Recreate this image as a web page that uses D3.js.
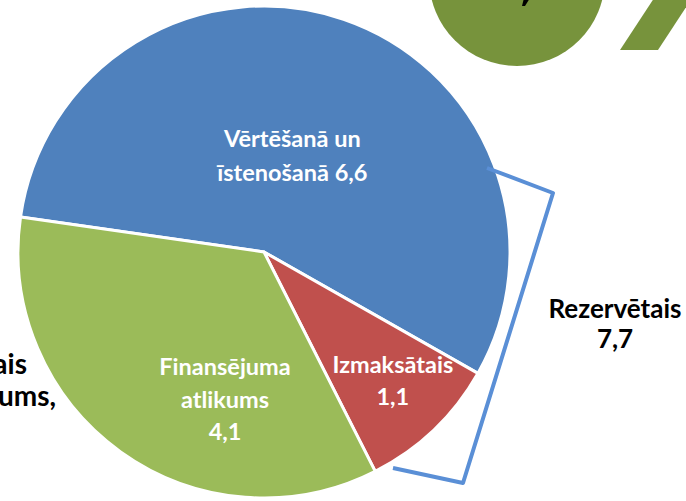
<!DOCTYPE html>
<html>
<head>
<meta charset="utf-8">
<title>Rezervētais</title>
<script src="https://cdn.jsdelivr.net/npm/d3@7/dist/d3.min.js"></script>
<style>
    body { margin: 0; background: white; }
    svg { display: block; }
    .lbl { font-family: Lato, "Open Sans", sans-serif; font-weight: 700; }
</style>
</head>
<body>
<div id="panel"></div>
<script>
// chart data
var categories = ["Vērtēšanā un īstenošanā", "Izmaksātais", "Finansējuma atlikums"];
var values = [6.6, 1.1, 4.1];
var labelLines = [["Vērtēšanā un", "īstenošanā 6,6"], ["Izmaksātais", "1,1"], ["Finansējuma", "atlikums", "4,1"]];
var colors = ["#4F81BD", "#C0504D", "#9BBB59"];
var bracketLines = ["Rezervētais", "7,7"];
var leftLines = ["ais", "ums,"];

var width = 686, height = 501;
var cx = 264, cy = 252, radius = 246;
var startDeg = -81.8;
// label placement: angle offset (deg) from slice middle, distance from centre, line height
var labelPlace = [[-2.4, 100, 34], [-1.4, 182, 32], [-20.9, 153, 32.5]];

var svg = d3.select("#panel").append("svg")
    .attr("width", width)
    .attr("height", height);

// decorations at the top right
svg.append("circle")
    .attr("cx", 517).attr("cy", -22).attr("r", 88)
    .attr("fill", "#77933C");
svg.append("path")
    .attr("d", "M524,-2 L530,-2 L525,6 L522,6 Z")
    .attr("fill", "black");
svg.append("path")
    .attr("d", "M620,50 L658,50 L700,-14 L662,-14 Z")
    .attr("fill", "#77933C");

var pie = d3.pie()
    .sort(null)
    .value(function(d) { return d; })
    .startAngle(startDeg * Math.PI / 180)
    .endAngle(startDeg * Math.PI / 180 + 2 * Math.PI);

var arc = d3.arc().innerRadius(0).outerRadius(radius);
var arcs = pie(values);

var g = svg.append("g").attr("transform", "translate(" + cx + "," + cy + ")");

g.selectAll("path.slice")
    .data(arcs)
    .enter().append("path")
    .attr("class", "slice")
    .attr("d", arc)
    .attr("fill", function(d, i) { return colors[i]; })
    .attr("stroke", "white")
    .attr("stroke-width", 3)
    .attr("stroke-linejoin", "round");

arcs.forEach(function(d, i) {
    var mid = (d.startAngle + d.endAngle) / 2 + labelPlace[i][0] * Math.PI / 180;
    var r = labelPlace[i][1], lineH = labelPlace[i][2];
    var x = r * Math.sin(mid), y = -r * Math.cos(mid);
    var lines = labelLines[i];
    var t = g.append("text")
        .attr("class", "lbl")
        .attr("text-anchor", "middle")
        .attr("font-size", 23.5)
        .attr("fill", "white");
    lines.forEach(function(s, k) {
        t.append("tspan")
            .attr("x", x)
            .attr("y", y + (k - (lines.length - 1) / 2) * lineH + 8)
            .text(s);
    });
});

// bracket round the "reserved" part
svg.append("path")
    .attr("d", "M487,168 L553,193 L463,483 L393,468")
    .attr("fill", "none")
    .attr("stroke", "#5A8FD6")
    .attr("stroke-width", 4)
    .attr("stroke-linejoin", "round");

var rt = svg.append("text")
    .attr("class", "lbl")
    .attr("text-anchor", "middle")
    .attr("font-size", 26)
    .attr("fill", "black");
bracketLines.forEach(function(s, k) {
    rt.append("tspan").attr("x", 615).attr("y", 318 + k * 30).text(s);
});

// text cut off at the left edge
var lt = svg.append("text")
    .attr("class", "lbl")
    .attr("text-anchor", "end")
    .attr("font-size", 28)
    .attr("fill", "black");
lt.append("tspan").attr("x", 27).attr("y", 374).text(leftLines[0]);
lt.append("tspan").attr("x", 56).attr("y", 406).text(leftLines[1]);
</script>
</body>
</html>
